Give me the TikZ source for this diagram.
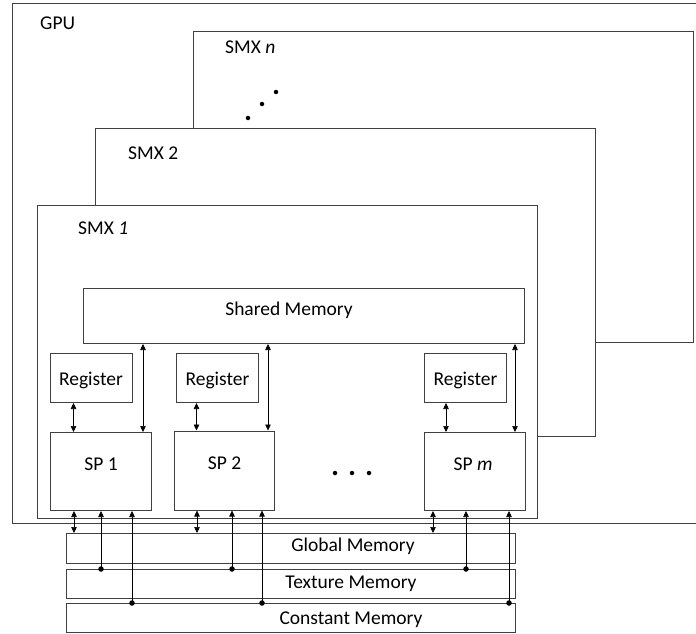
\documentclass[tikz,border=0pt]{standalone}
\usepackage{fontspec}
\setmainfont{Carlito}
\usetikzlibrary{arrows.meta,calc}

\tikzset{
  box/.style={draw=black!75, line width=1pt, fill=white, inner sep=0pt, anchor=north west},
  lbl/.style={inner sep=0pt, anchor=west},
  dbl/.style={{Triangle[length=6pt,width=5.5pt]}-{Triangle[length=6pt,width=5.5pt]}, line width=.6pt},
  tosp/.style={-{Triangle[length=6pt,width=5.5pt]}, line width=.6pt},
  dot/.style={circle, fill, inner sep=0pt, minimum size=5.5pt},
}

\begin{document}
\begin{tikzpicture}[x=1pt, y=-1pt, font=\fontsize{19.5}{23}\selectfont]
  \useasboundingbox (0,0) rectangle (696,634);

  % GPU frame (open to the right)
  \draw[draw=black!75, line width=1pt] (700,4) -- (12,4) -- (12,523) -- (700,523);
  \node[lbl] (gpulbl) at (40,23) {GPU};

  % SMX stack
  \node[box, minimum width=500pt, minimum height=311pt] (smxn) at (193,31) {};
  \node[lbl] (smxnlbl) at (225,47) {SMX \textit{n}};
  \node[dot, minimum size=4.5pt] (sd1) at (248,118) {};
  \node[dot, minimum size=4.5pt] (sd2) at (262,104) {};
  \node[dot, minimum size=4.5pt] (sd3) at (276,92) {};

  \node[box, minimum width=500pt, minimum height=308pt] (smx2) at (95,128) {};
  \node[lbl] (smx2lbl) at (128,153) {SMX 2};

  \node[box, minimum width=500pt, minimum height=313pt] (smx1) at (37,205) {};
  \node[lbl] (smx1lbl) at (78,228) {SMX \textit{1}};

  % shared memory, registers, SPs
  \node[box, minimum width=441pt, minimum height=55pt,
        label={[xshift=-15pt,yshift=6pt]center:Shared Memory}] (shared) at (83,288) {};

  \node[box, minimum width=82pt, minimum height=49pt] (reg1) at (49.5,353) {};
  \node[yshift=-2pt] at (reg1.center) {Register};
  \node[box, minimum width=82pt, minimum height=49pt] (reg2) at (176,353) {};
  \node[yshift=-2pt] at (reg2.center) {Register};
  \node[box, minimum width=82pt, minimum height=49pt] (regm) at (424,353) {};
  \node[yshift=-2pt] at (regm.center) {Register};

  \node[box, minimum width=101pt, minimum height=78pt,
        label={[yshift=7pt]center:SP 1}] (sp1) at (50,432) {};
  \node[box, minimum width=100pt, minimum height=79pt,
        label={[yshift=7pt]center:SP 2}] (sp2) at (174,430.5) {};
  \node[box, minimum width=101pt, minimum height=78pt,
        label={[yshift=7pt,xshift=-2pt]center:SP \textit{m}}] (spm) at (424,432) {};

  \node[dot, minimum size=4.5pt] (pd1) at (335,473) {};
  \node[dot, minimum size=4.5pt] (pd2) at (352,473) {};
  \node[dot, minimum size=4.5pt] (pd3) at (369,473) {};

  % memories below the GPU
  \node[box, minimum width=449pt, minimum height=29.5pt,
        label={[xshift=62pt,yshift=1.5pt]center:Global Memory}] (glob) at (66,533) {};
  \node[box, minimum width=449pt, minimum height=29pt,
        label={[xshift=60pt,yshift=0.5pt]center:Texture Memory}] (tex) at (66,569) {};
  \node[box, minimum width=449pt, minimum height=29pt,
        label={[xshift=60pt,yshift=-2pt]center:Constant Memory}] (const) at (66,603) {};

  % register <-> SP
  \draw[dbl] ($(reg1.south west)+(24,0)$) -- ($(reg1.south west |- sp1.north)+(24,0)$);
  \draw[dbl] ($(reg2.south west)+(20.5,0)$) -- ($(reg2.south west |- sp2.north)+(20.5,0)$);
  \draw[dbl] ($(regm.south west)+(22,0)$) -- ($(regm.south west |- spm.north)+(22,0)$);

  % shared memory <-> SP
  \draw[dbl] ($(sp1.north west |- shared.south)+(93,0)$) -- ($(sp1.north west)+(93,0)$);
  \draw[dbl] ($(sp2.north west |- shared.south)+(94,0)$) -- ($(sp2.north west)+(94,0)$);
  \draw[dbl] ($(spm.north west |- shared.south)+(91,0)$) -- ($(spm.north west)+(91,0)$);

  % SP <-> global, texture -> SP, constant -> SP
  \foreach \s/\a/\b/\c in {sp1/24/51/82, sp2/23/58/88, spm/9/42/85} {
    \draw[dbl] ($(\s.south west)+(\a,0)$) -- ($(\s.south west |- glob.north)+(\a,0)$);
    \node[dot] (\s tex) at ($(\s.south west |- tex.north)+(\b,0)$) {};
    \draw[tosp] (\s tex.center) -- ($(\s.south west)+(\b,0)$);
    \node[dot] (\s const) at ($(\s.south west |- const.north)+(\c,0)$) {};
    \draw[tosp] (\s const.center) -- ($(\s.south west)+(\c,0)$);
  }
\end{tikzpicture}
\end{document}
